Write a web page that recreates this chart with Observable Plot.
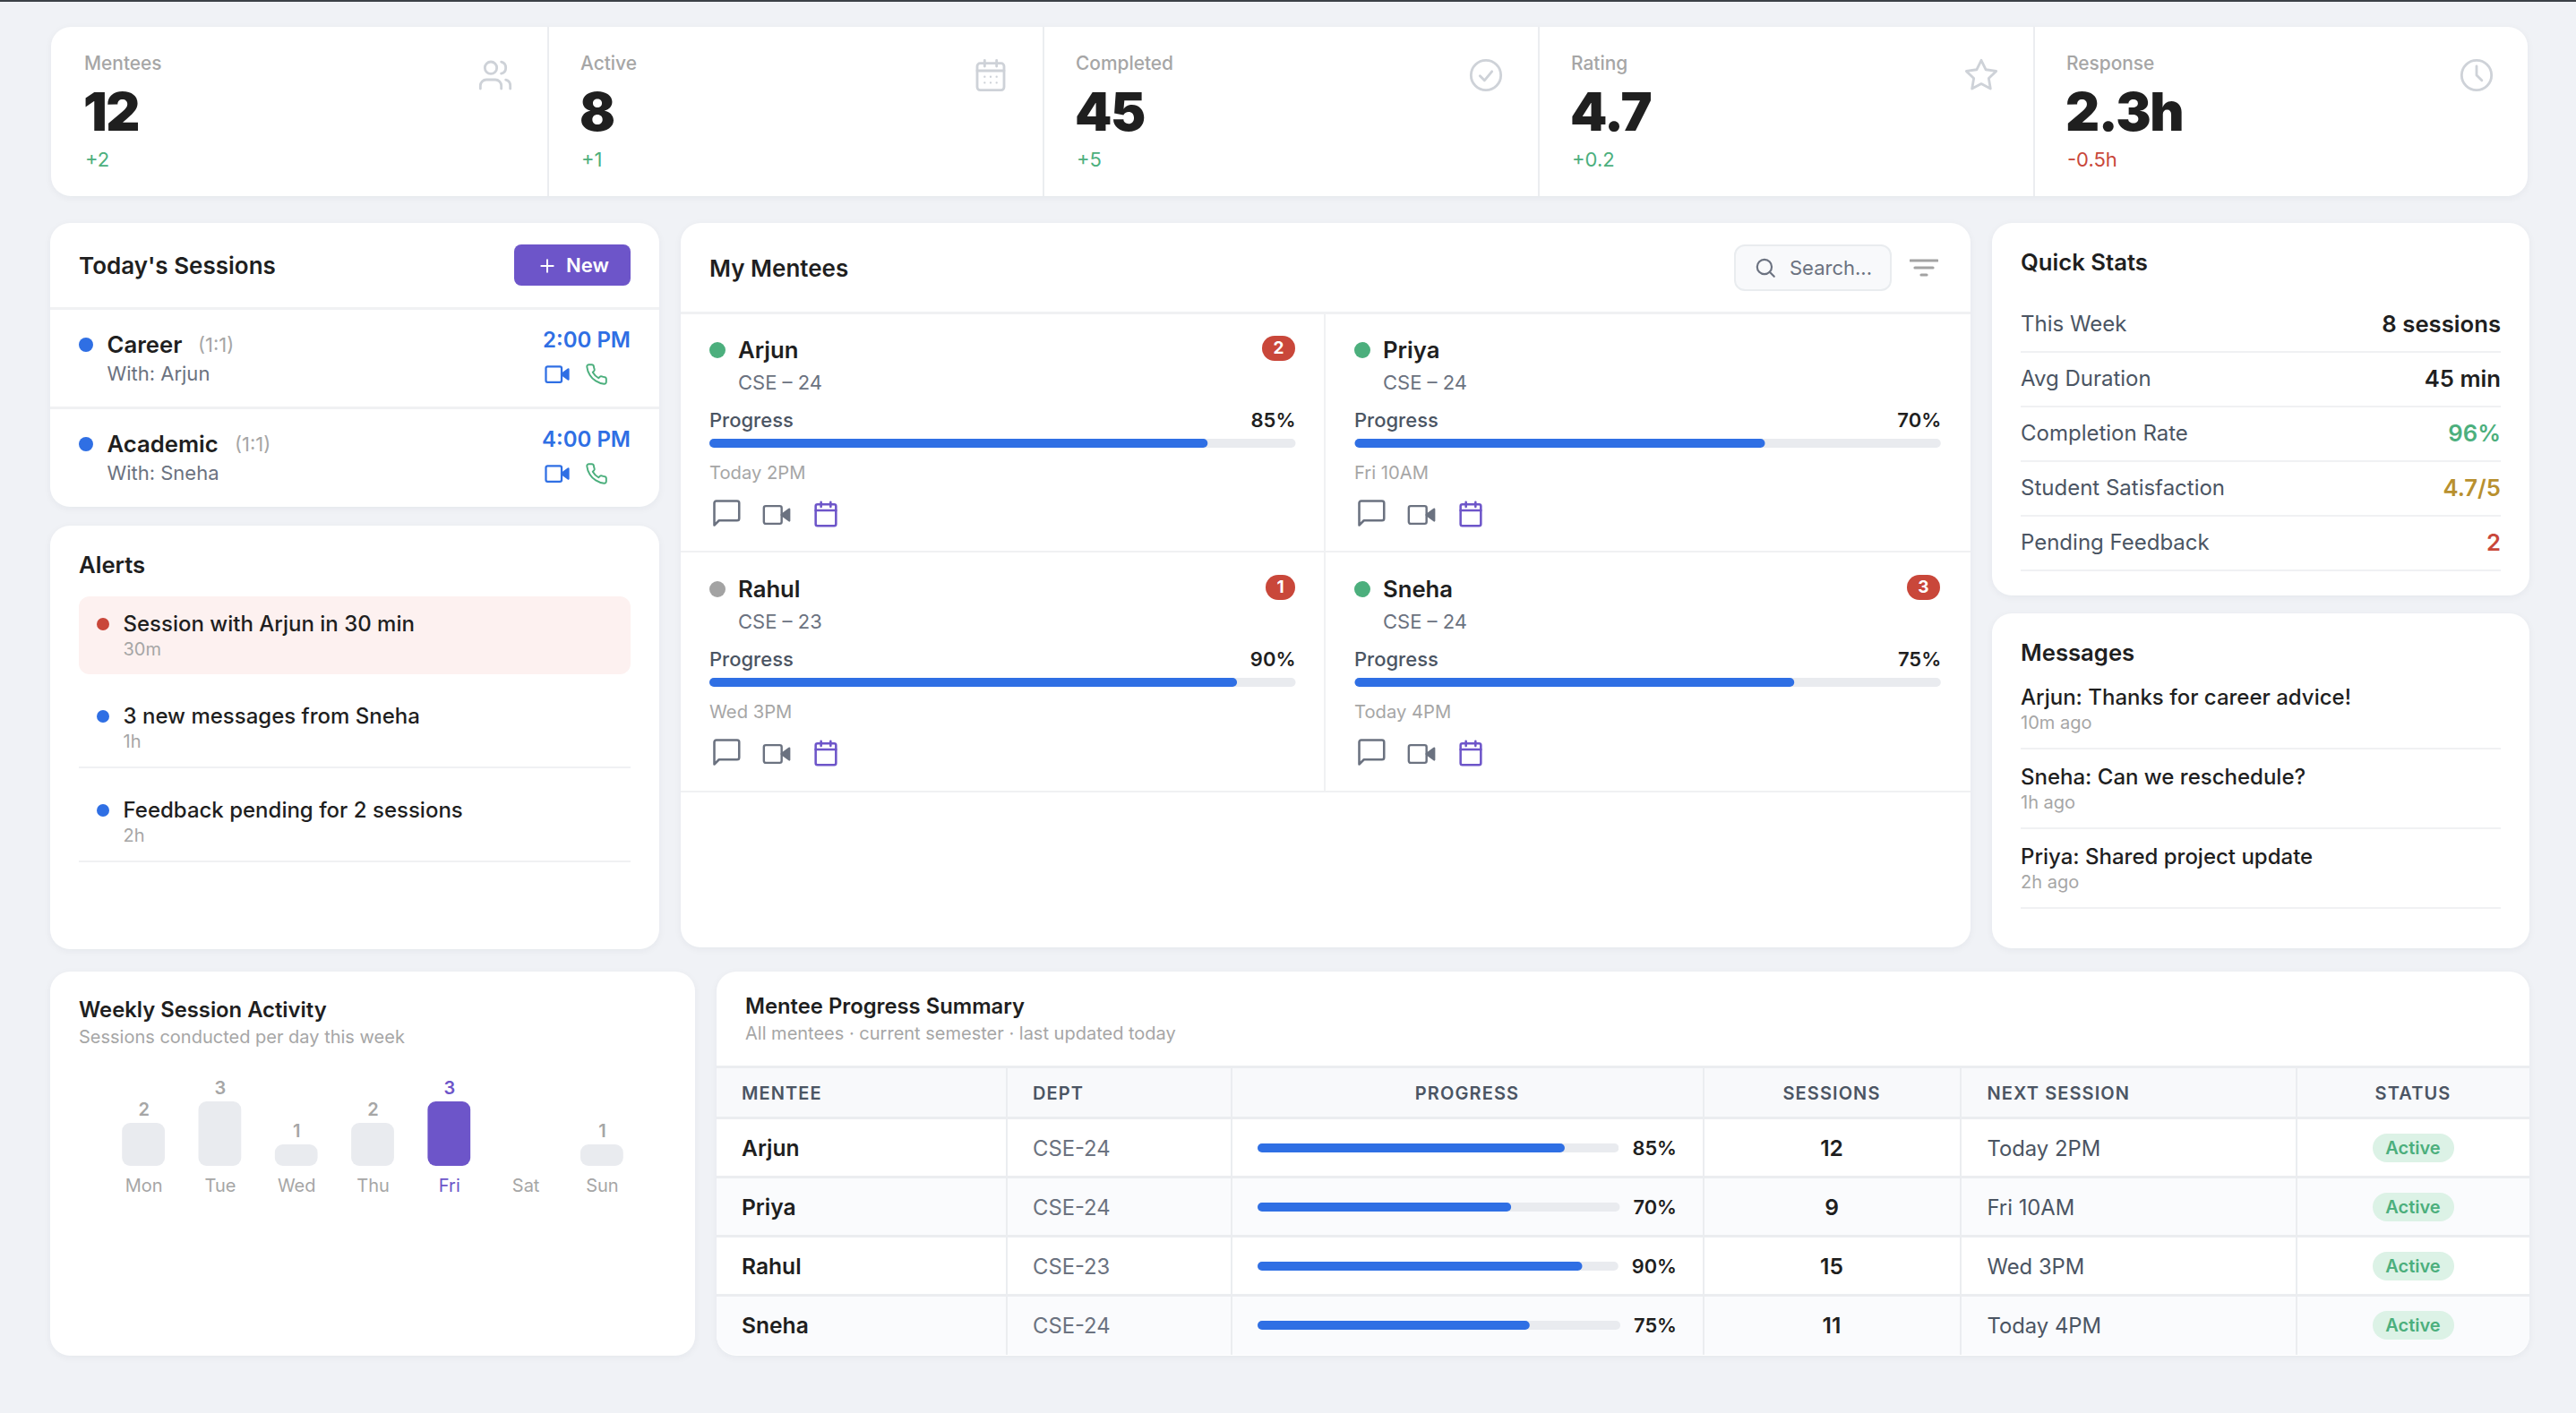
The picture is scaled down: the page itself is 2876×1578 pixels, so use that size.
<!DOCTYPE html>
<html><head><meta charset="utf-8">
<script src="https://cdn.jsdelivr.net/npm/d3@7"></script>
<script src="https://cdn.jsdelivr.net/npm/@observablehq/plot@0.6"></script>
<style>
html,body{margin:0;padding:0;background:#f0f2f6;width:2876px;height:1578px;overflow:hidden;font-family:Inter,"Noto Sans",sans-serif}
#root{position:absolute;left:0;top:0;width:2876px;height:1578px}
.a{position:absolute}
.t{position:absolute;white-space:nowrap;line-height:1.2}
.card{position:absolute;background:#fff;border-radius:22px;box-shadow:0 2px 8px rgba(20,30,60,.05);overflow:hidden}
svg{display:block}
</style></head><body><div id="root"></div>
<script>
// ---------- data ----------
const kpiLabels=["Mentees","Active","Completed","Rating","Response"];
const kpiValues=["12","8","45","4.7","2.3h"];
const kpiDeltas=["+2","+1","+5","+0.2","-0.5h"];
const kpiIcons=["users","calendarDots","check","star","clock"];
const sessionTitles=["Career","Academic"];
const sessionKinds=["(1:1)","(1:1)"];
const sessionWith=["With: Arjun","With: Sneha"];
const sessionTimes=["2:00 PM","4:00 PM"];
const alertTexts=["Session with Arjun in 30 min","3 new messages from Sneha","Feedback pending for 2 sessions"];
const alertAges=["30m","1h","2h"];
const menteeNames=["Arjun","Priya","Rahul","Sneha"];
const menteeCards=["CSE – 24","CSE – 24","CSE – 23","CSE – 24"];
const menteeDepts=["CSE-24","CSE-24","CSE-23","CSE-24"];
const menteeProgress=[85,70,90,75];
const menteeNext=["Today 2PM","Fri 10AM","Wed 3PM","Today 4PM"];
const menteeOnline=[true,true,false,true];
const menteeBadges=[2,0,1,3];
const menteeSessions=[12,9,15,11];
const menteeStatus=["Active","Active","Active","Active"];
const quickLabels=["This Week","Avg Duration","Completion Rate","Student Satisfaction","Pending Feedback"];
const quickValues=["8 sessions","45 min","96%","4.7/5","2"];
const messageTexts=["Arjun: Thanks for career advice!","Sneha: Can we reschedule?","Priya: Shared project update"];
const messageAges=["10m ago","1h ago","2h ago"];
const days=["Mon","Tue","Wed","Thu","Fri","Sat","Sun"];
const dayCounts=[2,3,1,2,3,0,1];
const highlightDay="Fri";
const tableHeads=["MENTEE","DEPT","PROGRESS","SESSIONS","NEXT SESSION","STATUS"];

// ---------- colours ----------
const INK="#1f1f1f",MUTED="#a6a6a6",GREY="#6b7280",SLATE="#4b5563",LINE="#f0f1f3",BORDER="#ebedf0",
 BLUE="#2f6fe4",GREEN="#4caf7d",RED="#c9473a",PURPLE="#6d55c9",GOLD="#b8902f",TRACK="#e9ebef",ICON="#ced2d8";

// ---------- helpers ----------
const root=document.getElementById("root");
function box(x,y,w,h,bg,extra={},parent=root){const e=document.createElement("div");e.className="a";
 Object.assign(e.style,{left:x+"px",top:y+"px",width:w+"px",height:h+"px",background:bg},extra);parent.appendChild(e);return e;}
function card(x,y,w,h){const e=document.createElement("div");e.className="card";
 Object.assign(e.style,{left:x+"px",top:y+"px",width:w+"px",height:h+"px"});root.appendChild(e);return e;}
function T(x,y,s,size,weight,color,anchor="start",extra={}){const e=document.createElement("div");e.className="t";e.textContent=s;
 Object.assign(e.style,{top:y+"px",fontSize:size+"px",fontWeight:weight,color},extra);
 if(anchor==="end"){e.style.right=(2876-x)+"px";e.style.transform="translateY(-50%)";}
 else if(anchor==="middle"){e.style.left=x+"px";e.style.transform="translate(-50%,-50%)";}
 else{e.style.left=x+"px";e.style.transform="translateY(-50%)";}
 root.appendChild(e);return e;}
function dot(cx,cy,d,c){box(cx-d/2,cy-d/2,d,d,c,{borderRadius:"50%"});}
const ICONS={
 users:'<path d="M16 21v-2a4 4 0 0 0-4-4H6a4 4 0 0 0-4 4v2"/><circle cx="9" cy="7" r="4"/><path d="M22 21v-2a4 4 0 0 0-3-3.87"/><path d="M16 3.13a4 4 0 0 1 0 7.75"/>',
 calendar:'<rect x="3.5" y="4" width="17" height="18" rx="1.5"/><path d="M16 2v4M8 2v4M3.5 9h17"/>',
 calendarDots:'<rect x="3" y="4" width="18" height="18" rx="2"/><path d="M16 2v4M8 2v4M3 9h18"/><path d="M8 13h.01M12 13h.01M16 13h.01M8 17h.01M12 17h.01M16 17h.01" stroke-width="1.4"/>',
 check:'<circle cx="12" cy="12" r="10"/><path d="M8 12.5l3 3 5-6"/>',
 star:'<polygon points="12 2 15.09 8.26 22 9.27 17 14.14 18.18 21.02 12 17.77 5.82 21.02 7 14.14 2 9.27 8.91 8.26"/>',
 clock:'<circle cx="12" cy="12" r="10"/><path d="M12 6v6l3.5 3.5"/>',
 video:'<rect x="2" y="5" width="14" height="14" rx="1.5"/><path d="M22 7.5l-6 4.5 6 4.5z" fill="currentColor"/>',
 phone:'<path d="M22 16.92v3a2 2 0 0 1-2.18 2 19.79 19.79 0 0 1-8.63-3.07 19.5 19.5 0 0 1-6-6 19.79 19.79 0 0 1-3.07-8.67A2 2 0 0 1 4.11 2h3a2 2 0 0 1 2 1.72c.127.96.361 1.903.7 2.81a2 2 0 0 1-.45 2.11L8.09 9.91a16 16 0 0 0 6 6l1.27-1.27a2 2 0 0 1 2.11-.45c.907.339 1.85.573 2.81.7A2 2 0 0 1 22 16.92z"/>',
 chat:'<path d="M21.5 16a1.5 1.5 0 0 1-1.5 1.5H6.5L3 21V4.5A1.5 1.5 0 0 1 4.5 3H20a1.5 1.5 0 0 1 1.5 1.5z"/>',
 search:'<circle cx="11" cy="11" r="7.5"/><path d="M21 21l-4.6-4.6"/>',
 filter:'<path d="M.75 6h22.5M4.5 12h15M9.75 18h4.5"/>',
 plus:'<path d="M12 4v16M4 12h16"/>'
};
function icon(name,cx,cy,size,color,sw=1.8){const e=document.createElement("div");e.className="a";
 Object.assign(e.style,{left:(cx-size/2)+"px",top:(cy-size/2)+"px",width:size+"px",height:size+"px",color});
 e.innerHTML=`<svg xmlns="http://www.w3.org/2000/svg" viewBox="0 0 24 24" width="${size}" height="${size}" fill="none" stroke="currentColor" stroke-width="${sw}" stroke-linecap="round" stroke-linejoin="round">${ICONS[name]}</svg>`;
 root.appendChild(e);}
// progress bar drawn with Plot's x scale
function progressBar(x,y,w,h,value){
 const chart=Plot.plot({width:w,height:h,margin:0,style:{background:"transparent"},
  x:{domain:[0,100],axis:null},y:{axis:null},
  marks:[Plot.barX([100],{x:d=>d,fill:TRACK,rx:h/2}),Plot.barX([value],{x:d=>d,fill:BLUE,rx:h/2})]});
 const w2=document.createElement("div");w2.className="a";w2.style.left=x+"px";w2.style.top=y+"px";w2.appendChild(chart);root.appendChild(w2);
}

// ---------- top strip ----------
box(0,0,2876,2,"#3c4147");

// ---------- KPI card ----------
card(57,30,2765,189);
const kpiStep=553;
kpiLabels.forEach((l,i)=>{
 const x=(i===0?94:95)+kpiStep*i;
 if(i>0)box(58+kpiStep*i,30,2,189,BORDER);
 T(x,71,l,20.9,500,MUTED);
 T(x-1,125,kpiValues[i],59,900,INK,"start",{letterSpacing:"-1.4px"});
 T(x+1,178,kpiDeltas[i],22,400,kpiDeltas[i][0]==="-"?RED:GREEN);
 icon(kpiIcons[i],552.5+kpiStep*i,84,40,ICON,1.7);
});

// ---------- today's sessions ----------
card(56,249,680,317);
T(88,297,"Today's Sessions",26,600,INK);
box(574,273,130,46,PURPLE,{borderRadius:"8px"});
icon("plus",611,297,20,"#fff",2.4);
T(632,296,"New",22,600,"#fff");
box(56,343,680,3,LINE);box(56,454,680,3,LINE);
const kindX=[221,262];
sessionTitles.forEach((s,i)=>{
 const dy=i*111;
 dot(96,385+dy,16,BLUE);
 T(119.5,385+dy,s,25.7,600,INK);
 T(kindX[i],385+dy,sessionKinds[i],22,400,MUTED);
 T(119.5,417+dy,sessionWith[i],22,400,GREY);
 T(704,380+dy,sessionTimes[i],24,600,BLUE,"end");
 icon("video",622,418+dy,30,BLUE,1.8);
 icon("phone",666,418+dy,26,GREEN,1.8);
});

// ---------- alerts ----------
card(56,587,680,473);
T(88,631,"Alerts",25.7,600,INK);
box(88,666,616,87,"#fdf1f0",{borderRadius:"12px"});
const alertY=[697,800,905];
alertTexts.forEach((s,i)=>{
 dot(115,alertY[i],14,i===0?RED:BLUE);
 T(137.5,alertY[i],s,24,500,INK);
 T(137.5,alertY[i]+28,alertAges[i],20,400,MUTED);
 if(i>0)box(88,alertY[i]+56,616,2,LINE);
});

// ---------- my mentees ----------
card(760,249,1440,809);
T(792,300,"My Mentees",26,600,INK);
box(1936,273,172,48,"#f8f9fb",{border:"2px solid #e9ecef",borderRadius:"12px"});
icon("search",1971,299,26,GREY,2);
T(1998,299,"Search...",22,400,GREY);
icon("filter",2148,299,32,"#a3a3a3",2.4);
box(760,348,1440,3,LINE);
box(1478,351,2,533,LINE);
box(760,615,1440,2,LINE);
box(760,883,1440,2,LINE);
menteeNames.forEach((n,i)=>{
 const col=i%2,row=Math.floor(i/2);
 const x=792+col*720,dy=row*267;
 const rowW=654.5+col*.8;
 dot(x+9,391+dy,18,menteeOnline[i]?GREEN:"#a3a3a3");
 T(x+32,391+dy,n,25.7,600,INK);
 T(x+32,427+dy,menteeCards[i],22,400,GREY);
 T(x,469+dy,"Progress",22,500,SLATE);
 T(x+rowW,469+dy,menteeProgress[i]+"%",22,600,INK,"end");
 progressBar(x,490+dy,rowW,10,menteeProgress[i]);
 T(x,528+dy,menteeNext[i],20.2,400,MUTED);
 icon("chat",x+18.5,573+dy,36,GREY,1.7);
 icon("video",x+75,575+dy,34,GREY,1.7);
 icon("calendar",x+130,574+dy,32,PURPLE,1.9);
 if(menteeBadges[i]>0){
  const bw=menteeBadges[i]===1?33:37;
  box(x+654-bw,375+dy,bw,28,RED,{borderRadius:"14px"});
  T(x+654-bw/2,389+dy,String(menteeBadges[i]),19,700,"#fff","middle");
 }
});

// ---------- quick stats ----------
card(2224,249,600,416);
T(2256,293,"Quick Stats",25.7,600,INK);
const quickY=[362,423,483.5,545,606];
const quickLineY=[392,453,514,575,636];
const quickColors=[INK,INK,GREEN,GOLD,RED];
quickLabels.forEach((l,i)=>{
 T(2256,quickY[i],l,24,400,SLATE);
 T(2792,quickY[i],quickValues[i],25.7,600,quickColors[i],"end");
 box(2256,quickLineY[i],536,2,LINE);
});

// ---------- messages ----------
card(2224,685,600,374);
T(2256,729,"Messages",25.7,600,INK);
const msgY=[779,868,957];
const msgLineY=[835,924,1013];
messageTexts.forEach((m,i)=>{
 T(2256,msgY[i],m,24,500,INK);
 T(2256,msgY[i]+28,messageAges[i],20,400,MUTED);
 box(2256,msgLineY[i],536,2,LINE);
});

// ---------- weekly activity ----------
card(56,1085,720,429);
T(88,1128,"Weekly Session Activity",23.8,600,INK);
T(88,1158,"Sessions conducted per day this week",20,400,MUTED);
const weekly=days.map((d,i)=>({day:d,count:dayCounts[i]}));
const active=weekly.filter(d=>d.count>0);
const barChart=Plot.plot({
 width:720,height:180,marginLeft:42.7,marginRight:42.7,marginTop:60,marginBottom:48,
 style:{background:"transparent",fontFamily:"Inter, sans-serif",overflow:"visible"},
 x:{type:"band",domain:days,padding:0.44,round:false,label:null,axis:null},
 y:{domain:[0,3],axis:null},
 marks:[
  Plot.barY(active,{x:"day",y:"count",rx:9,fill:d=>d.day===highlightDay?PURPLE:TRACK}),
  Plot.text(active,{x:"day",y:"count",text:d=>String(d.count),dy:-15,fontSize:20,fontWeight:600,fill:d=>d.day===highlightDay?PURPLE:MUTED}),
  Plot.axisX({ticks:days.filter(d=>d!==highlightDay),tickSize:0,tickPadding:14,fontSize:20,color:MUTED,label:null}),
  Plot.axisX({ticks:[highlightDay],tickSize:0,tickPadding:14,fontSize:20,color:PURPLE,fontWeight:400,label:null})
 ]});
const barWrap=document.createElement("div");barWrap.className="a";barWrap.style.left="56px";barWrap.style.top="1170px";barWrap.appendChild(barChart);root.appendChild(barWrap);

// ---------- summary table ----------
card(800,1085,2024,429);
T(832,1124,"Mentee Progress Summary",23.8,600,INK);
T(832,1154,"All mentees · current semester · last updated today",20,400,MUTED);
box(800,1191,2024,57,"#f8f9fb");
const rowY=[1283,1349,1415,1481];
box(800,1315,2024,66,"#fafbfd");
box(800,1447,2024,66,"#fafbfd",{borderBottomLeftRadius:"22px",borderBottomRightRadius:"22px"});
[1190,1247,1313,1379,1445].forEach(y=>box(800,y,2024,3,BORDER));
[1124,1375,1902,2189,2564].forEach(x=>box(x-1,1191,2,322,BORDER));
const headX=[828,1153,1638,2045,2218.5,2694];
const headAnchor=["start","start","middle","middle","start","middle"];
tableHeads.forEach((h,i)=>T(headX[i],1220.5,h,20,600,SLATE,headAnchor[i],{letterSpacing:"1.1px"}));
menteeNames.forEach((n,i)=>{
 const y=rowY[i];
 T(828,y,n,24.6,600,INK);
 T(1153,y,menteeDepts[i],23.8,400,GREY);
 const pct=T(1872,y-1,menteeProgress[i]+"%",21.8,600,INK,"end");
 const end=pct.getBoundingClientRect().left-15;
 progressBar(1404,y-6,end-1404,10,menteeProgress[i]);
 T(2045,y,String(menteeSessions[i]),24.6,600,INK,"middle");
 T(2218.5,y,menteeNext[i],23.8,400,SLATE);
 box(2649,y-17,91,32,"#dcf2e6",{borderRadius:"16px"});
 T(2694,y-1,menteeStatus[i],20,600,GREEN,"middle");
});
</script></body></html>
